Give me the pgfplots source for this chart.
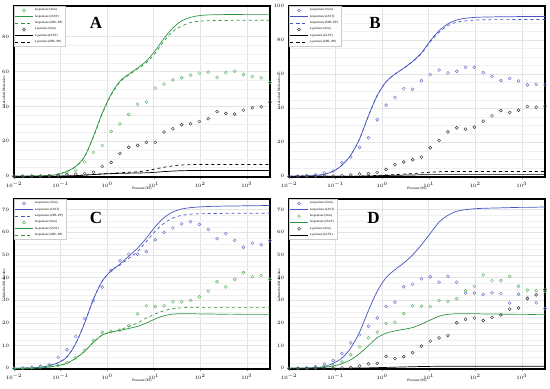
\documentclass[border=0pt]{standalone}
\usepackage{pgfplots}
\usepackage{pgfplotstable}
\pgfplotsset{compat=1.18}
\usepackage{fontspec}
\setmainfont{Liberation Serif}
\definecolor{cgreen}{RGB}{45,150,65}
\definecolor{cgreenm}{RGB}{95,180,100}
\definecolor{cblue}{RGB}{70,85,190}
\definecolor{cbluem}{RGB}{110,115,205}
\definecolor{cgray}{RGB}{60,60,60}

\pgfplotstableread{
x isoSim nSim isoIAST isoDPL nIAST nDPL
0.01 0.0 0.0 0.0 0.0 0.0 0.0
0.01548 0.05 0.05 0.05 0.05 0.0 0.0
0.02395 0.1 0.1 0.1 0.1 0.0 0.0
0.03707 0.2 0.1 0.2 0.2 0.02 0.02
0.05736 0.4 0.2 0.5 0.5 0.05 0.05
0.08877 0.8 0.5 1.1 1.1 0.1 0.1
0.1374 2.0 1.0 2.9 2.8 0.2 0.2
0.2126 3.4 1.2 5.7 5.5 0.4 0.4
0.3290 8.2 1.6 11.4 11.2 0.7 0.7
0.5092 13.7 2.3 22.9 22.5 1.0 1.0
0.7880 17.7 5.7 36.2 35.8 1.3 1.4
1.2195 25.7 8.0 47.0 46.5 1.5 1.7
1.887 30.0 13.1 54.5 54.0 1.7 2.0
2.921 35.4 16.6 58.5 58.0 1.8 2.3
4.520 41.3 17.7 62.0 61.5 1.9 2.6
6.996 42.5 19.4 66.0 65.0 2.0 3.2
10.83 50.5 19.4 72.0 70.5 2.3 4.2
16.75 52.8 25.3 79.0 77.5 2.7 5.2
25.93 55.2 27.2 85.0 83.0 3.0 6.0
40.13 56.4 29.5 89.0 86.0 3.2 6.5
62.11 57.9 30.1 91.0 88.0 3.3 6.7
96.11 59.0 31.4 92.0 88.8 3.3 6.8
148.7 59.6 33.0 92.4 89.1 3.3 6.8
230.2 56.6 37.0 92.5 89.2 3.3 6.8
356.2 59.4 36.0 92.6 89.2 3.3 6.8
551.3 60.2 35.6 92.6 89.3 3.3 6.8
853.2 58.3 37.9 92.7 89.3 3.3 6.8
1320.4 57.1 39.2 92.7 89.3 3.3 6.8
2043.5 56.4 39.8 92.7 89.3 3.3 6.8
3162.3 53.7 42.5 92.7 89.3 3.3 6.8
}\tabA

\pgfplotstableread{
x neoSim nSim neoIAST neoDPL nIAST nDPL
0.01 0.0 0.0 0.0 0.0 0.0 0.0
0.01548 0.1 0.0 0.1 0.1 0.0 0.0
0.02395 0.4 0.0 0.2 0.2 0.0 0.0
0.03707 0.8 0.0 0.5 0.5 0.0 0.0
0.05736 2.0 0.1 1.2 1.2 0.0 0.0
0.08877 3.1 0.2 3.0 3.0 0.0 0.0
0.1374 8.0 0.4 6.5 6.5 0.0 0.0
0.2126 11.3 0.8 12.5 12.5 0.05 0.05
0.3290 17.0 1.4 22.0 22.0 0.1 0.1
0.5092 22.6 1.6 35.5 35.5 0.2 0.3
0.7880 33.2 2.3 47.5 47.5 0.3 0.5
1.2195 41.8 4.1 55.5 55.5 0.5 0.8
1.887 46.4 6.8 60.0 60.0 0.6 1.0
2.921 51.5 8.4 63.5 63.5 0.7 1.3
4.520 51.1 9.8 67.5 67.3 0.8 1.6
6.996 56.2 11.3 72.5 72.0 0.9 2.0
10.83 59.7 16.8 79.5 79.0 1.0 2.4
16.75 62.4 21.1 85.5 84.5 1.0 2.7
25.93 60.7 26.1 89.5 88.5 1.0 2.8
40.13 61.7 28.5 91.8 90.5 1.0 2.8
62.11 64.0 27.7 92.8 91.3 1.0 2.8
96.11 64.0 28.9 93.3 91.7 1.0 2.8
148.7 60.9 32.4 93.5 91.9 1.0 2.8
230.2 58.7 35.5 93.6 92.0 1.0 2.8
356.2 56.2 38.6 93.7 92.0 1.0 2.8
551.3 57.4 37.5 93.7 92.0 1.0 2.8
853.2 56.0 38.8 93.8 92.1 1.0 2.8
1320.4 53.7 41.0 93.8 92.1 1.0 2.8
2043.5 54.0 40.6 93.8 92.1 1.0 2.8
3162.3 53.7 41.2 93.8 92.1 1.0 2.8
}\tabB

\pgfplotstableread{
x neoSim isoSim neoIAST neoDPL isoIAST isoDPL
0.01 0.0 0.0 0.0 0.0 0.0 0.0
0.01548 0.1 0.1 0.1 0.1 0.05 0.05
0.02395 0.4 0.3 0.2 0.2 0.1 0.1
0.03707 0.9 0.7 0.5 0.5 0.2 0.2
0.05736 1.5 1.0 1.2 1.2 0.6 0.6
0.08877 4.9 1.3 2.5 2.5 1.2 1.2
0.1374 8.2 2.5 5.0 5.0 2.2 2.2
0.2126 14.1 4.6 11.0 11.0 4.5 4.5
0.3290 22.0 7.9 20.0 20.0 7.5 7.5
0.5092 30.0 12.3 30.5 30.5 11.5 11.5
0.7880 35.9 15.9 38.5 38.5 14.7 14.7
1.2195 43.2 16.2 43.0 43.0 16.0 16.0
1.887 47.5 16.9 46.0 45.5 16.7 17.0
2.921 50.4 18.8 49.5 48.5 17.6 18.5
4.520 50.3 24.0 53.0 51.5 18.5 20.0
6.996 51.5 27.6 57.5 56.0 20.0 22.2
10.83 56.7 27.3 62.5 60.5 21.8 24.0
16.75 60.0 27.6 66.5 64.0 23.2 25.5
25.93 61.9 29.4 69.0 66.3 23.9 26.3
40.13 63.7 29.3 70.3 67.5 24.1 26.7
62.11 64.7 30.0 70.9 68.0 24.1 26.9
96.11 63.5 31.5 71.2 68.2 24.0 26.9
148.7 61.2 34.1 71.4 68.3 24.0 26.9
230.2 57.2 38.2 71.5 68.3 23.9 26.9
356.2 59.4 35.9 71.6 68.4 23.9 26.9
551.3 56.4 39.3 71.6 68.4 23.9 26.9
853.2 53.4 42.3 71.7 68.4 23.8 26.9
1320.4 55.3 40.4 71.7 68.4 23.8 26.9
2043.5 54.5 41.0 71.8 68.4 23.8 26.9
3162.3 56.3 39.3 71.8 68.4 23.8 26.9
}\tabC

\pgfplotstableread{
x neoSim isoSim nSim neoIAST isoIAST nIAST
0.01 0.0 0.0 0.0 0.0 0.0 0.0
0.01548 0.0 0.0 0.0 0.05 0.05 0.0
0.02395 0.1 0.0 0.0 0.1 0.1 0.0
0.03707 0.7 0.3 0.0 0.3 0.2 0.0
0.05736 1.9 0.9 0.0 0.8 0.5 0.0
0.08877 3.4 1.3 0.1 2.2 1.0 0.02
0.1374 6.5 2.8 0.2 4.5 2.0 0.05
0.2126 11.2 6.0 0.4 9.0 3.8 0.1
0.3290 14.8 9.5 1.0 16.0 6.5 0.15
0.5092 18.6 13.5 2.0 25.5 10.0 0.2
0.7880 22.2 16.0 2.2 34.0 13.5 0.3
1.2195 27.3 19.8 5.3 40.0 15.5 0.4
1.887 29.2 20.3 4.3 43.5 16.5 0.5
2.921 36.0 24.2 5.1 46.5 17.2 0.6
4.520 37.1 27.6 6.9 50.0 18.0 0.7
6.996 39.5 27.4 9.8 54.5 19.5 0.8
10.83 40.4 27.2 12.0 59.5 21.3 0.85
16.75 38.0 29.9 13.4 64.5 23.0 0.9
25.93 40.6 29.5 14.4 67.5 23.8 0.9
40.13 38.0 30.7 20.1 69.3 24.1 0.9
62.11 33.2 34.3 21.6 70.0 24.1 0.9
96.11 33.2 36.2 22.2 70.4 24.1 0.9
148.7 32.6 41.2 21.1 70.6 24.0 0.9
230.2 33.3 38.7 22.5 70.7 24.0 0.9
356.2 33.0 38.7 23.6 70.8 23.9 0.9
551.3 28.8 40.6 26.1 70.9 23.9 0.9
853.2 32.7 36.2 26.6 71.0 23.8 0.9
1320.4 31.0 34.5 30.7 71.0 23.8 0.9
2043.5 28.9 34.2 32.4 71.1 23.7 0.9
3162.3 26.3 34.0 34.8 71.2 23.7 0.9
}\tabD

\pgfplotsset{
  every axis/.append style={
    scale only axis, width=256pt,
    xmode=log, xmin=0.01, xmax=3162.3,
    xtick={0.01,0.1,1,10,100,1000},
    axis line style={line width=1.2pt},
    xmajorgrids, ymajorgrids, yminorgrids,
    major grid style={gray!22, line width=0.35pt},
    minor grid style={gray!12, line width=0.3pt},
    major tick length=1.5pt, minor tick length=0pt,
    tick align=outside,
    tick label style={font=\fontsize{3.2}{3.5}\selectfont},
    xlabel={Pressure (Pa)}, ylabel={Adsorbed Molecules},
    label style={font=\fontsize{3.6}{4}\selectfont},
    xlabel style={at={(axis description cs:0.5,-0.07)}, anchor=center},
    ylabel style={at={(axis description cs:-0.039,0.5)}, anchor=center},
    legend cell align=left,
    legend style={at={(0,1)}, anchor=north west, font=\fontsize{3.2}{3.6}\selectfont,
      draw=gray!40, line width=0.3pt, fill=white, inner xsep=1pt, inner ysep=0.5pt,
      row sep=-1.4pt},
  },
  simpts/.style={only marks, mark=o, mark size=1.5pt, mark options={line width=0.45pt, solid}},
}

\begin{document}
\begin{tikzpicture}
\useasboundingbox (0,0) rectangle (550pt,-389pt);

% Panel A
\begin{axis}[at={(14pt,-177pt)}, anchor=south west, height=171pt,
  ymin=-0.4, ymax=97.5, ytick={0,20,40,60,80}, minor y tick num=3]
\addplot[simpts, cgreenm] table[x=x,y=isoSim]{\tabA};
\addlegendentry{Isopentane (Sim)}
\addplot[cgreen, smooth, line width=0.7pt] table[x=x,y=isoIAST]{\tabA};
\addlegendentry{Isopentane (IAST)}
\addplot[cgreen, dashed, smooth, line width=0.7pt] table[x=x,y=isoDPL]{\tabA};
\addlegendentry{Isopentane (DPL-PP)}
\addplot[simpts, cgray] table[x=x,y=nSim]{\tabA};
\addlegendentry{n-pentane (Sim)}
\addplot[black, smooth, line width=0.7pt] table[x=x,y=nIAST]{\tabA};
\addlegendentry{n-pentane (IAST)}
\addplot[black, dashed, smooth, line width=0.7pt] table[x=x,y=nDPL]{\tabA};
\addlegendentry{n-pentane (DPL-PP)}
\node[font=\fontsize{17}{17}\selectfont\bfseries] at (rel axis cs:0.32,0.9) {A};
\end{axis}

% Panel B
\begin{axis}[at={(289pt,-177pt)}, anchor=south west, height=171pt,
  ymin=-0.4, ymax=100, ytick={0,20,40,60,80,100}, minor y tick num=3]
\addplot[simpts, cbluem] table[x=x,y=neoSim]{\tabB};
\addlegendentry{neopentane (Sim)}
\addplot[cblue, smooth, line width=0.7pt] table[x=x,y=neoIAST]{\tabB};
\addlegendentry{neopentane (IAST)}
\addplot[cblue, dashed, smooth, line width=0.7pt] table[x=x,y=neoDPL]{\tabB};
\addlegendentry{neopentane (DPL-PP)}
\addplot[simpts, cgray] table[x=x,y=nSim]{\tabB};
\addlegendentry{n-pentane (Sim)}
\addplot[black, smooth, line width=0.7pt] table[x=x,y=nIAST]{\tabB};
\addlegendentry{n-pentane (IAST)}
\addplot[black, dashed, smooth, line width=0.7pt] table[x=x,y=nDPL]{\tabB};
\addlegendentry{n-pentane (DPL-PP)}
\node[font=\fontsize{17}{17}\selectfont\bfseries] at (rel axis cs:0.336,0.9) {B};
\end{axis}

% Panel C
\begin{axis}[at={(14pt,-369pt)}, anchor=south west, height=170pt,
  ymin=-0.3, ymax=74.7, ytick={0,10,20,30,40,50,60,70}, minor y tick num=3]
\addplot[simpts, cbluem] table[x=x,y=neoSim]{\tabC};
\addlegendentry{neopentane (Sim)}
\addplot[cblue, smooth, line width=0.7pt] table[x=x,y=neoIAST]{\tabC};
\addlegendentry{neopentane (IAST)}
\addplot[cblue, dashed, smooth, line width=0.7pt] table[x=x,y=neoDPL]{\tabC};
\addlegendentry{neopentane (DPL-PP)}
\addplot[simpts, cgreenm] table[x=x,y=isoSim]{\tabC};
\addlegendentry{Isopentane (Sim)}
\addplot[cgreen, smooth, line width=0.7pt] table[x=x,y=isoIAST]{\tabC};
\addlegendentry{Isopentane (IAST)}
\addplot[cgreen, dashed, smooth, line width=0.7pt] table[x=x,y=isoDPL]{\tabC};
\addlegendentry{Isopentane (DPL-PP)}
\node[font=\fontsize{17}{17}\selectfont\bfseries] at (rel axis cs:0.32,0.89) {C};
\end{axis}

% Panel D
\begin{axis}[at={(289pt,-369pt)}, anchor=south west, height=170pt,
  ymin=-0.3, ymax=74.7, ytick={0,10,20,30,40,50,60,70}, minor y tick num=3]
\addplot[simpts, cbluem] table[x=x,y=neoSim]{\tabD};
\addlegendentry{neopentane (Sim)}
\addplot[cblue, smooth, line width=0.7pt] table[x=x,y=neoIAST]{\tabD};
\addlegendentry{neopentane (IAST)}
\addplot[simpts, cgreenm] table[x=x,y=isoSim]{\tabD};
\addlegendentry{Isopentane (Sim)}
\addplot[cgreen, smooth, line width=0.7pt] table[x=x,y=isoIAST]{\tabD};
\addlegendentry{Isopentane (IAST)}
\addplot[simpts, cgray] table[x=x,y=nSim]{\tabD};
\addlegendentry{n-pentane (Sim)}
\addplot[black, smooth, line width=0.7pt] table[x=x,y=nIAST]{\tabD};
\addlegendentry{n-pentane (IAST)}
\node[font=\fontsize{17}{17}\selectfont\bfseries] at (rel axis cs:0.33,0.89) {D};
\end{axis}
\end{tikzpicture}
\end{document}
